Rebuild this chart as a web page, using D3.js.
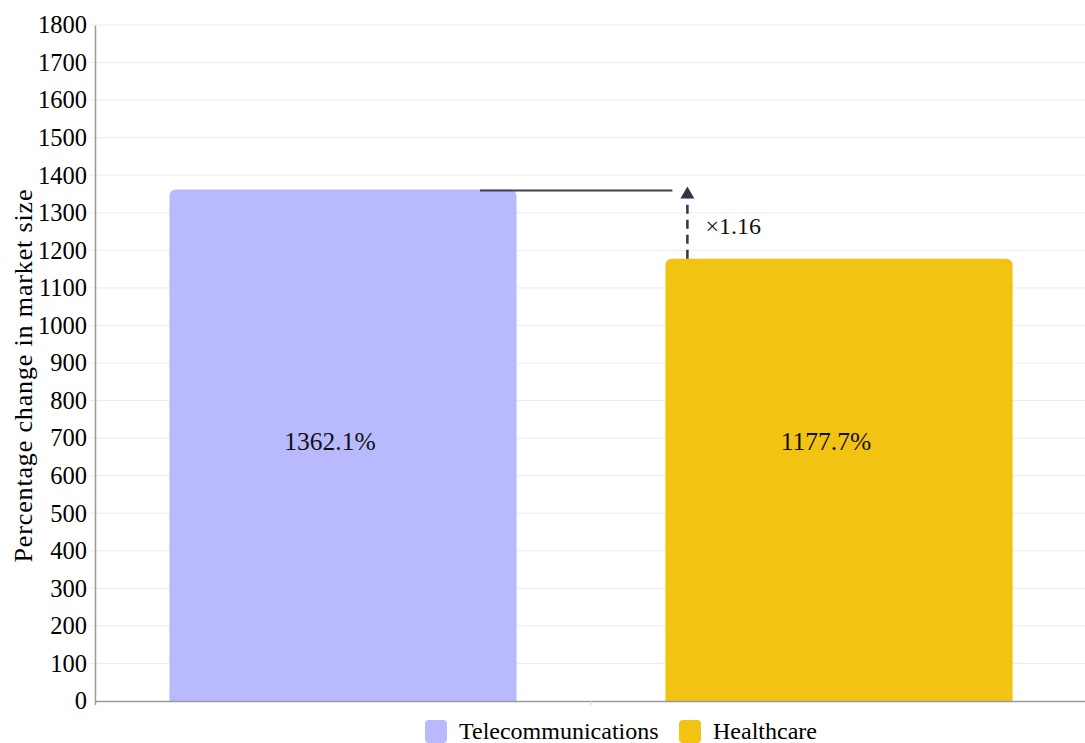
<!DOCTYPE html>
<html>
<head>
<meta charset="utf-8">
<script src="https://cdn.jsdelivr.net/npm/d3@7"></script>
<style>
  html, body { margin: 0; padding: 0; background: #fff; }
  svg { display: block; font-family: "Liberation Serif", "Times New Roman", serif; }
</style>
</head>
<body>
<svg id="chart" width="1085" height="743"></svg>
<script>
// Market size growth by sector
const categories = ["Telecommunications", "Healthcare"];
const values = [1362.1, 1177.7];
const colors = ["#b9bafe", "#f2c313"];
const yTicks = [0, 100, 200, 300, 400, 500, 600, 700, 800, 900, 1000, 1100, 1200, 1300, 1400, 1500, 1600, 1700, 1800];
const yLabel = "Percentage change in market size";
const ratioLabel = "×" + (values[0] / values[1]).toFixed(2);

const svg = d3.select("#chart");
const serif = "Liberation Serif, Times New Roman, serif";
const margin = { left: 95, right: -2, top: 25, bottom: 42 };
const W = 1085, H = 743;

const x = d3.scaleBand().domain(categories).range([margin.left, W - margin.right]).padding(0);
const y = d3.scaleLinear().domain([0, 1800]).range([H - margin.bottom, margin.top]);

// grid (with short outer ticks left of the axis)
svg.append("g").selectAll("line").data(yTicks.slice(1)).join("line")
  .attr("x1", margin.left - 5).attr("x2", W)
  .attr("y1", d => y(d)).attr("y2", d => y(d))
  .attr("stroke", "#ececec").attr("stroke-width", 1);

// bars with rounded top corners
const barFrac = 0.7;
const r = 7;
function barPath(x0, w, yTop, yBot) {
  return `M${x0},${yBot}V${yTop + r}Q${x0},${yTop} ${x0 + r},${yTop}H${x0 + w - r}Q${x0 + w},${yTop} ${x0 + w},${yTop + r}V${yBot}Z`;
}
svg.append("g").selectAll("path").data(categories).join("path")
  .attr("d", (c, i) => {
    const bw = x.bandwidth() * barFrac;
    const x0 = x(c) + (x.bandwidth() - bw) / 2;
    return barPath(x0, bw, y(values[i]), y(0));
  })
  .attr("fill", (c, i) => colors[i]);

// value labels
svg.append("g").selectAll("text").data(categories).join("text")
  .attr("x", c => x(c) + x.bandwidth() / 2 - 13)
  .attr("y", y(700) + 12)
  .attr("text-anchor", "middle")
  .style("font-family", serif)
  .style("font-size", "25.5px")
  .attr("fill", "#111")
  .text((c, i) => values[i].toFixed(1) + "%");

// axes
const yAxis = d3.axisLeft(y).tickValues(yTicks).tickFormat(d3.format("d")).tickSize(0).tickPadding(8);
const gy = svg.append("g").attr("transform", `translate(${margin.left},0)`).call(yAxis);
gy.attr("font-family", serif).attr("font-size", 24.5);
gy.select(".domain").attr("stroke", "#9a9a9a").attr("stroke-width", 1.5);
gy.selectAll("text").attr("fill", "#000");

const xAxis = d3.axisBottom(x).tickSize(4).tickFormat("");
const gx = svg.append("g").attr("transform", `translate(0,${y(0)})`).call(xAxis);
gx.select(".domain").attr("stroke", "#9a9a9a").attr("stroke-width", 1.5);
gx.selectAll(".tick line").attr("stroke", "#cfcfcf")
  .attr("transform", `translate(${x.bandwidth() / 2},0)`);
gx.selectAll(".tick").filter((d, i) => i > 0).remove();

// y label
svg.append("text")
  .attr("transform", `translate(32,${(y(0) + y(1800)) / 2 + 13}) rotate(-90)`)
  .attr("text-anchor", "middle")
  .attr("font-family", serif)
  .attr("font-size", 26)
  .attr("textLength", 373)
  .attr("lengthAdjust", "spacing")
  .attr("fill", "#000")
  .text(yLabel);

// comparison annotation
const ann = svg.append("g");
const bw0 = x.bandwidth() * barFrac;
const leftBarCenter = x(categories[0]) + x.bandwidth() / 2;
const rightBarLeft = x(categories[1]) + (x.bandwidth() - bw0) / 2;
const arrowX = rightBarLeft + 22;
ann.append("line")
  .attr("x1", leftBarCenter + 137).attr("x2", arrowX - 15)
  .attr("y1", y(values[0]) + 1).attr("y2", y(values[0]) + 1)
  .attr("stroke", "#3b4252").attr("stroke-width", 2);
ann.append("line")
  .attr("x1", arrowX).attr("x2", arrowX)
  .attr("y1", y(values[1])).attr("y2", y(values[0]) + 9)
  .attr("stroke", "#2e3648").attr("stroke-width", 2.5)
  .attr("stroke-dasharray", "9,6");
ann.append("path")
  .attr("d", `M${arrowX},${y(values[0]) - 3}L${arrowX - 7},${y(values[0]) + 9}L${arrowX + 7},${y(values[0]) + 9}Z`)
  .attr("fill", "#2e3648");
ann.append("text")
  .attr("x", arrowX + 18)
  .attr("y", (y(values[0]) + y(values[1])) / 2 + 10)
  .attr("font-family", serif)
  .attr("font-size", 24)
  .attr("fill", "#111")
  .text(ratioLabel);

// legend
const legend = svg.append("g").attr("transform", `translate(425,731)`);
const legItems = [
  { label: categories[0], color: colors[0], x: 0 },
  { label: categories[1], color: colors[1], x: 254 }
];
legItems.forEach(it => {
  legend.append("rect").attr("x", it.x).attr("y", -11).attr("width", 22).attr("height", 23)
    .attr("rx", 4).attr("fill", it.color);
  legend.append("text").attr("x", it.x + 34).attr("y", 8)
    .attr("font-family", serif)
    .attr("font-size", 24).attr("fill", "#000").text(it.label);
});
</script>
</body>
</html>
